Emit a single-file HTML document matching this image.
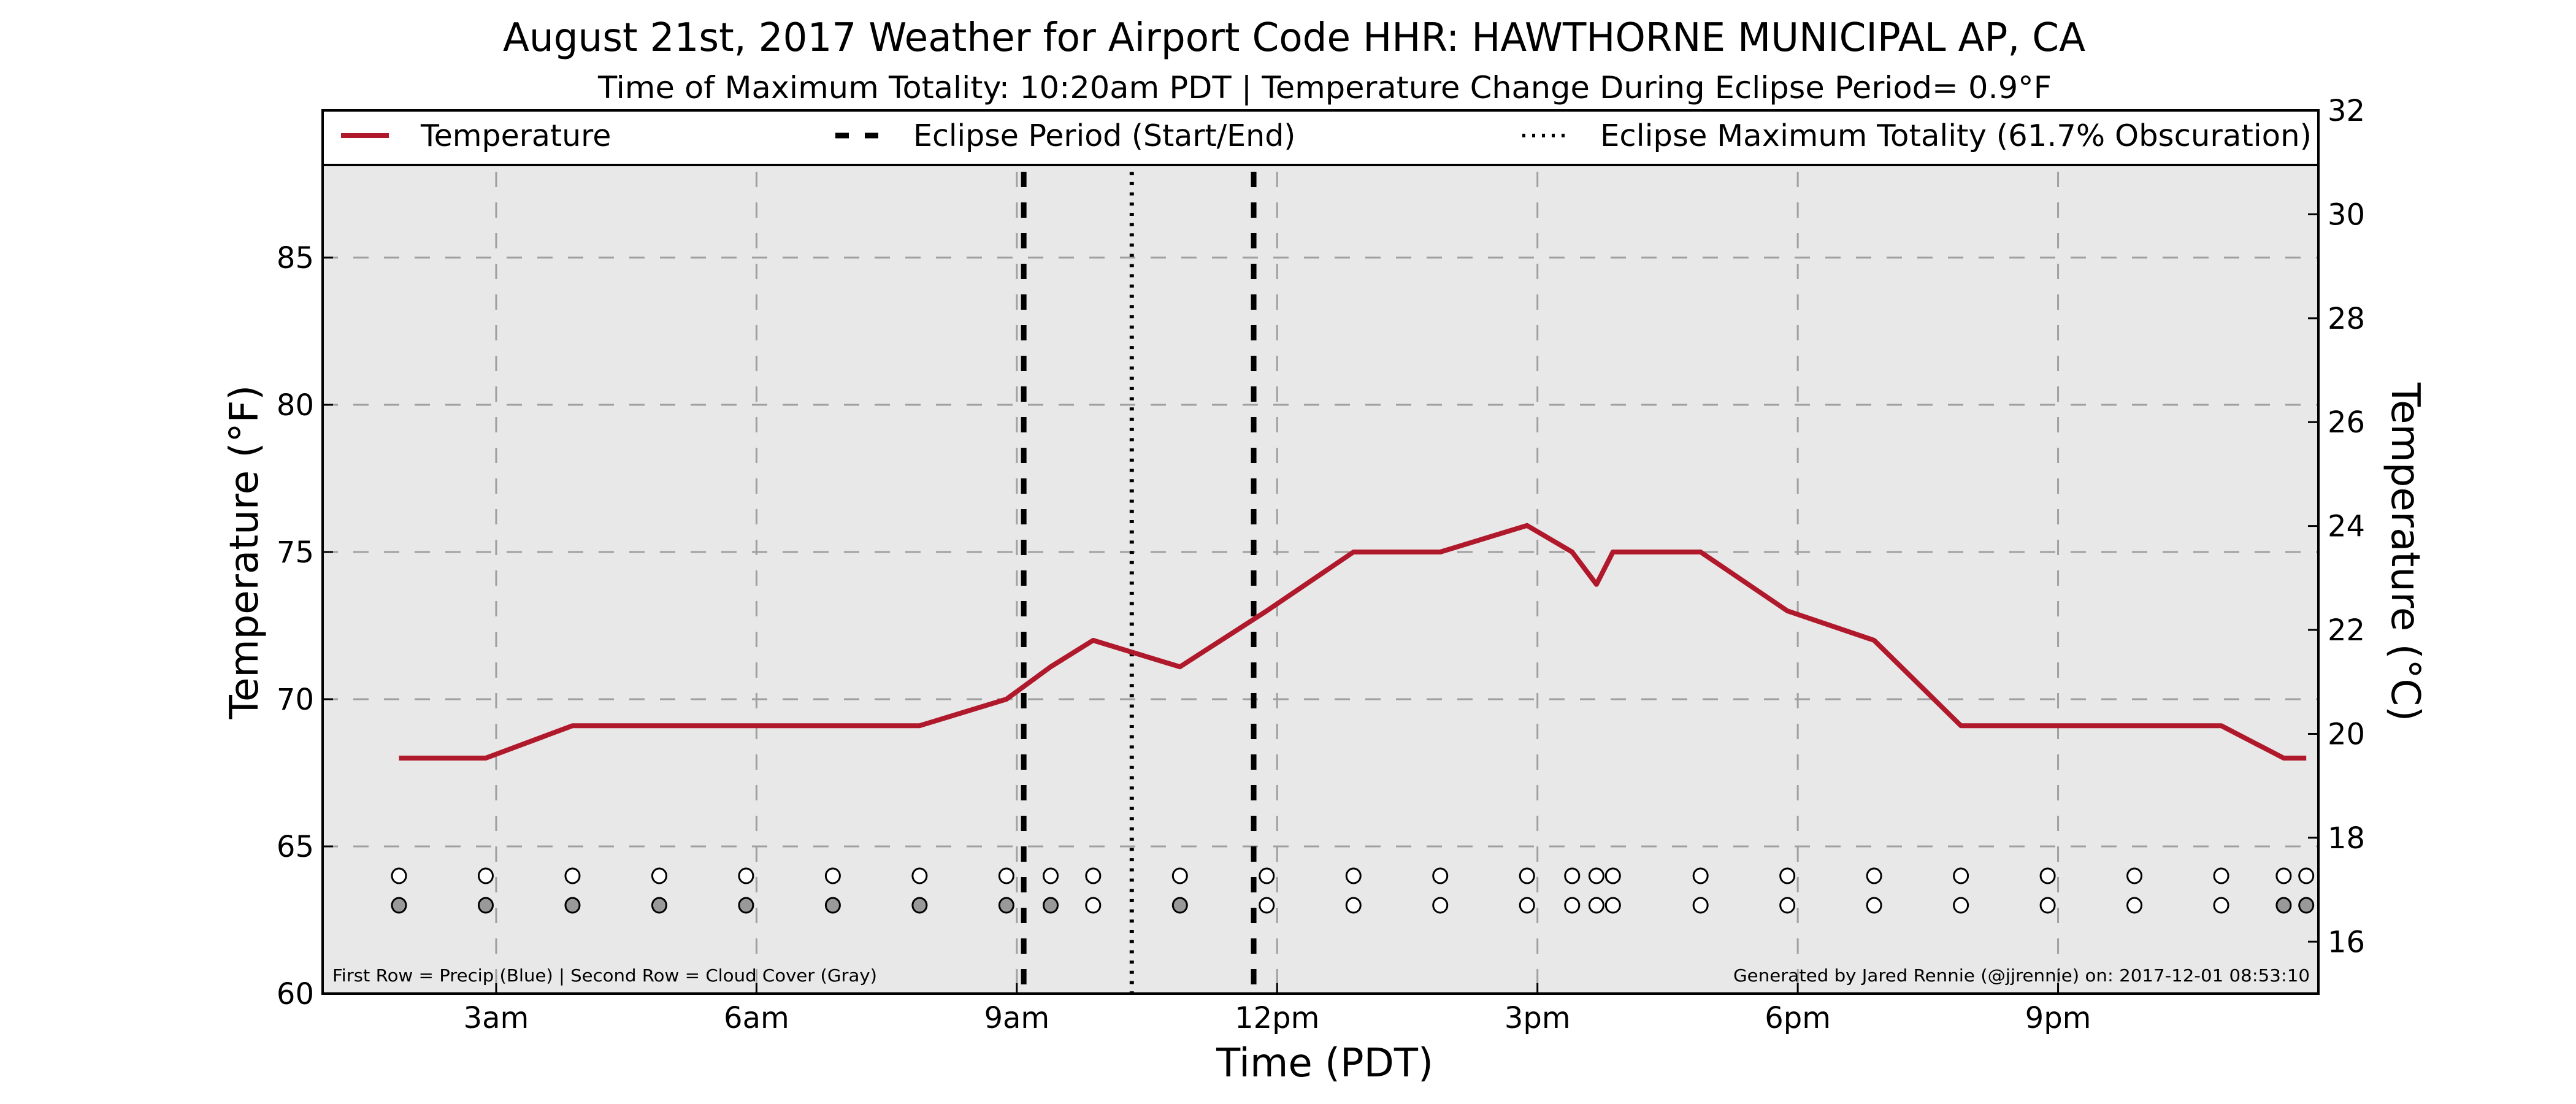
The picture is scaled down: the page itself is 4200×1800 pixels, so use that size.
<!DOCTYPE html>
<html><head><meta charset="utf-8"><style>
html,body{margin:0;padding:0;background:#fff}
svg{display:block;font-family:"DejaVu Sans","Liberation Sans",sans-serif}
</style></head><body>
<svg id="chart" width="4200" height="1800" viewBox="0 0 4200 1800" xmlns="http://www.w3.org/2000/svg">
<text x="2110" y="83" font-size="64" text-anchor="middle" textLength="2580" lengthAdjust="spacingAndGlyphs">August 21st, 2017 Weather for Airport Code HHR: HAWTHORNE MUNICIPAL AP, CA</text>
<text x="2160" y="160" font-size="50" text-anchor="middle" textLength="2370" lengthAdjust="spacingAndGlyphs">Time of Maximum Totality: 10:20am PDT | Temperature Change During Eclipse Period= 0.9°F</text>
<rect x="526" y="180" width="3254" height="1440" fill="#e8e8e8"/>
<g id="grid"></g>
<g id="marks"></g>
<g>
<rect x="526" y="180" width="3254" height="89" fill="#fff" stroke="#000" stroke-width="4"/>
<line x1="556" y1="221" x2="634" y2="221" stroke="#b0182b" stroke-width="8"/>
<text x="686" y="238" font-size="49">Temperature</text>
<line x1="1362" y1="221" x2="1432" y2="221" stroke="#000" stroke-width="9" stroke-dasharray="22 26"/>
<text x="1489" y="238" font-size="49">Eclipse Period (Start/End)</text>
<line x1="2482" y1="221" x2="2557" y2="221" stroke="#000" stroke-width="6" stroke-dasharray="5 11"/>
<text x="2609" y="238" font-size="49" textLength="1160" lengthAdjust="spacingAndGlyphs">Eclipse Maximum Totality (61.7% Obscuration)</text>
</g>
<rect x="526" y="180" width="3254" height="1440" fill="none" stroke="#000" stroke-width="4"/>
<g id="axes"></g>
<text x="542" y="1600" font-size="28" textLength="888" lengthAdjust="spacingAndGlyphs">First Row = Precip (Blue) | Second Row = Cloud Cover (Gray)</text>
<text x="3766" y="1600" font-size="28" text-anchor="end" textLength="940" lengthAdjust="spacingAndGlyphs">Generated by Jared Rennie (@jjrennie) on: 2017-12-01 08:53:10</text>
<text x="2160" y="1755" font-size="64" text-anchor="middle">Time (PDT)</text>
<text transform="translate(420,900) rotate(-90)" font-size="64" text-anchor="middle">Temperature (°F)</text>
<text transform="translate(3900,900) rotate(90)" font-size="64" text-anchor="middle">Temperature (°C)</text>
</svg>
<script>
const obsHours = [1.88,2.88,3.88,4.88,5.88,6.88,7.88,8.88,9.39,9.88,10.88,11.88,12.88,13.88,14.88,15.4,15.68,15.87,16.88,17.88,18.88,19.88,20.88,21.88,22.88,23.6,23.86];
const tempF = [68,68,69.1,69.1,69.1,69.1,69.1,70,71.1,72,71.1,73,75,75,75.9,75,73.9,75,75,73,72,69.1,69.1,69.1,69.1,68,68];
const cloudGray = [1,1,1,1,1,1,1,1,1,0,1,0,0,0,0,0,0,0,0,0,0,0,0,0,0,1,1];
const precipRowValue = 64;
const cloudRowValue = 63;
const eclipseStart = 9.08, eclipseMax = 10.325, eclipseEnd = 11.73;
const xTicks = [3,6,9,12,15,18,21];
const xTickLabels = ["3am","6am","9am","12pm","3pm","6pm","9pm"];
const yTicks = [60,65,70,75,80,85];
const cTicks = [16,18,20,22,24,26,28,30,32];

const L=526,R=3780,T=180,B=1620;
const xMin=1,xMax=24,yMin=60,yMax=90,cMin=15,cMax=32;
const X=h=>L+(h-xMin)/(xMax-xMin)*(R-L);
const Y=v=>B-(v-yMin)/(yMax-yMin)*(B-T);
const YC=c=>B-(c-cMin)/(cMax-cMin)*(B-T);
const NS="http://www.w3.org/2000/svg";
function mk(tag,attrs,parent){const e=document.createElementNS(NS,tag);for(const k in attrs)e.setAttribute(k,attrs[k]);parent.appendChild(e);return e;}
const grid=document.getElementById('grid'),marks=document.getElementById('marks'),axes=document.getElementById('axes');

xTicks.forEach(h=>{const e=mk('line',{x1:X(h),y1:T,x2:X(h),y2:B,stroke:'#a0a0a0','stroke-width':3,'stroke-dasharray':'25 25'},grid);

});
yTicks.forEach(v=>{const e=mk('line',{x1:L,y1:Y(v),x2:R,y2:Y(v),stroke:'#a0a0a0','stroke-width':3,'stroke-dasharray':'25 25'},grid);

});

[eclipseStart,eclipseEnd].forEach(h=>{const e=mk('line',{x1:X(h),y1:T,x2:X(h),y2:B,stroke:'#000','stroke-width':9,'stroke-dasharray':'25 25'},marks);

});
const em=mk('line',{x1:X(eclipseMax),y1:T,x2:X(eclipseMax),y2:B,stroke:'#000','stroke-width':7,'stroke-dasharray':'5 11.7'},marks);



const pts=obsHours.map((h,i)=>X(h)+','+Y(tempF[i])).join(' ');
const tl=mk('polyline',{points:pts,fill:'none',stroke:'#b0182b','stroke-width':8,'stroke-linejoin':'round'},marks);



obsHours.forEach((h,i)=>{
const p=mk('ellipse',{cx:X(h),cy:Y(precipRowValue),rx:11.5,ry:12,fill:'#fff',stroke:'#000','stroke-width':3},marks);


const c=mk('ellipse',{cx:X(h),cy:Y(cloudRowValue),rx:11.5,ry:12,fill:cloudGray[i]?'#999':'#fff',stroke:'#000','stroke-width':3},marks);


});

xTicks.forEach((h,i)=>{mk('line',{x1:X(h),y1:B,x2:X(h),y2:B-17,stroke:'#000','stroke-width':3},axes);
const t=mk('text',{x:X(h),y:1676,'font-size':48,'text-anchor':'middle'},axes);t.textContent=xTickLabels[i];

});
yTicks.forEach(v=>{mk('line',{x1:L,y1:Y(v),x2:L+17,y2:Y(v),stroke:'#000','stroke-width':3},axes);
const t=mk('text',{x:512,y:Y(v)+17,'font-size':48,'text-anchor':'end'},axes);t.textContent=v;

});
cTicks.forEach(c=>{mk('line',{x1:R,y1:YC(c),x2:R-17,y2:YC(c),stroke:'#000','stroke-width':3},axes);
const t=mk('text',{x:3795,y:YC(c)+17,'font-size':48},axes);t.textContent=c;

});
</script>
</body></html>
